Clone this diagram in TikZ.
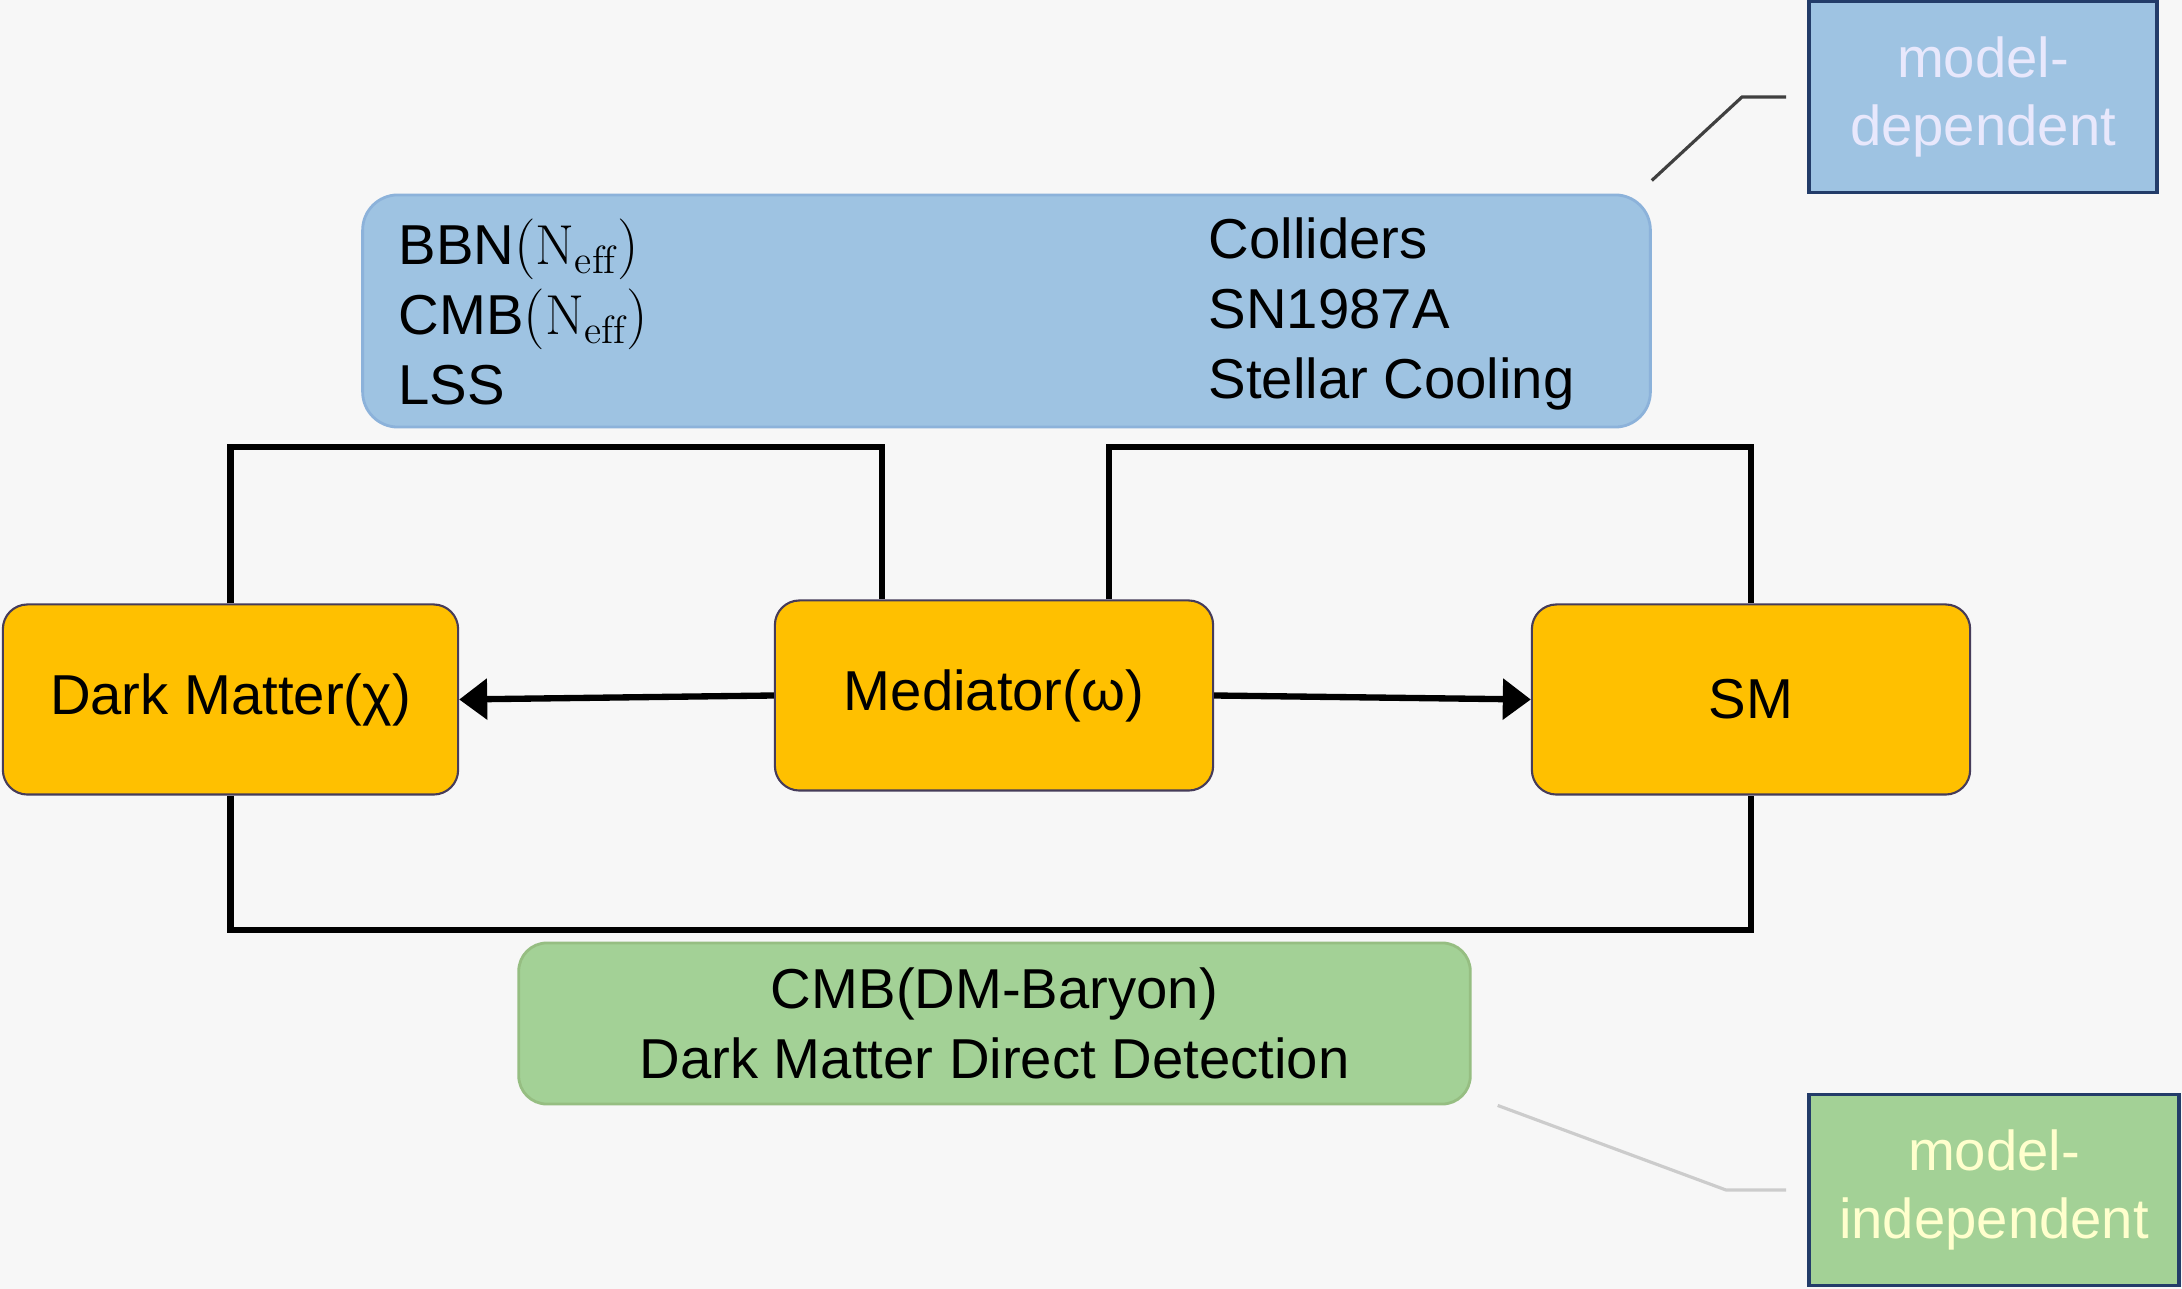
\documentclass[tikz,border=0pt]{standalone}
\usepackage{fontspec}
\setsansfont{Liberation Sans}
\usepackage{amsmath}
\usepackage{xcolor}
\usetikzlibrary{arrows.meta,positioning,calc}
\definecolor{bgGray}{RGB}{247,247,247}
\definecolor{partOrange}{RGB}{255,192,0}
\definecolor{partEdge}{RGB}{70,60,90}
\definecolor{obsBlue}{RGB}{158,195,226}
\definecolor{obsBlueEdge}{RGB}{140,178,218}
\definecolor{obsGreen}{RGB}{163,209,150}
\definecolor{obsGreenEdge}{RGB}{150,190,130}
\definecolor{tagEdge}{RGB}{35,60,105}
\definecolor{mdText}{RGB}{232,232,252}
\definecolor{miText}{RGB}{255,255,205}

\begin{document}
\begin{tikzpicture}[x=0.01cm, y=-0.01cm,
    font=\sffamily\fontsize{16}{20}\selectfont,
    part/.style={draw=partEdge, line width=0.6pt, fill=partOrange, rounded corners=7pt,
      minimum height=1.9cm, inner sep=0pt},
    obs/.style={draw=obsBlueEdge, line width=0.8pt, fill=obsBlue, rounded corners=10pt,
      minimum width=12.87cm, minimum height=2.32cm, inner sep=0pt},
    tag/.style={draw=tagEdge, line width=1pt, minimum height=1.91cm, inner sep=0pt,
      align=center, font=\sffamily\fontsize{16}{19.5}\selectfont},
    link/.style={line width=1.8pt},
    flow/.style={link, -{Triangle[length=0.28cm, width=0.4cm]}},
    leader/.style={line width=0.9pt}
  ]
  \useasboundingbox (0,0) rectangle (2182,1289);
  \fill[bgGray] (0,0) rectangle (2182,1289);

  \node[obs] (topbox) at (1006.5,311) {};
  \node[anchor=west, align=left, inner sep=0pt] (obsL) at (398,312)
    {BBN$(\mathrm{N}_{\mathrm{eff}})$\\CMB$(\mathrm{N}_{\mathrm{eff}})$\\LSS};
  \node[anchor=west, align=left, inner sep=0pt] (obsR) at (1208,314)
    {Colliders\\SN1987A\\Stellar Cooling};

  \node[part, minimum width=4.55cm] (dm) at (230.5,699.5) {Dark Matter(χ)};
  \node[part, minimum width=4.38cm] (med) at (994,695.5) {Mediator(ω)};
  \node[part, minimum width=4.38cm] (sm) at (1751,699.5) {SM};

  \node[obs, draw=obsGreenEdge, fill=obsGreen, rounded corners=8pt, minimum width=9.51cm,
    minimum height=1.61cm, align=center] (direct) at (994.5,1023.5)
    {CMB(DM-Baryon)\\Dark Matter Direct Detection};

  \node[tag, fill=obsBlue, text=mdText, minimum width=3.48cm] (md) at (1983,97) {model-\\dependent};
  \node[tag, fill=obsGreen, text=miText, minimum width=3.70cm] (mi) at (1994,1190) {model-\\independent};

  \draw[flow] (med.west) -- (dm.east);
  \draw[flow] (med.east) -- (sm.west);

  \coordinate (upY) at (0,447);
  \coordinate (lowY) at (0,930);
  \coordinate (medL) at ([xshift=-1.12cm]med.north);
  \coordinate (medR) at ([xshift=1.15cm]med.north);
  \draw[link] (dm.north) |- (medL |- upY) -- (medL);
  \draw[link] (medR) |- (sm.north |- upY) -- (sm.north);
  \draw[link] (dm.south) |- (sm.south |- lowY) -- (sm.south);

  \coordinate (mdBend) at (1742,97);
  \coordinate (miBend) at (1726,1190);
  \draw[leader, black!75] ([yshift=0.13cm]topbox.north east) -- (mdBend) -- ([xshift=-0.21cm]md.west);
  \draw[leader, black!20] ([xshift=0.26cm]direct.south east) -- (miBend) -- ([xshift=-0.21cm]mi.west);
\end{tikzpicture}
\end{document}
